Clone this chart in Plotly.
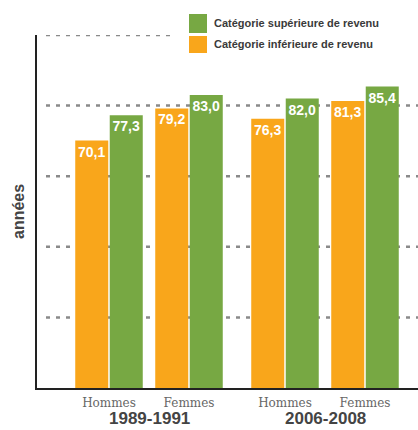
import plotly.graph_objects as go

# ---- data ----
periods = ["1989-1991", "2006-2008"]
sexes = ["Hommes", "Femmes"]
low_income = [70.1, 79.2, 76.3, 81.3]    # Catégorie inférieure de revenu
high_income = [77.3, 83.0, 82.0, 85.4]   # Catégorie supérieure de revenu
grid_values = [20, 40, 60, 80, 100]
name_low = "Catégorie inférieure de revenu"
name_high = "Catégorie supérieure de revenu"
y_title = "années"

ORANGE = "#F9A61B"
GREEN = "#77A843"

W, H = 418, 430
ml, mr, mt, mb = 37, 0, 35, 42
pw, ph = W - ml - mr, H - mt - mb

# category positions: pairs one unit apart, periods separated by a wider gap
group_step = 2.2
pos = []
labels = []
for gi, p in enumerate(periods):
    for si, s in enumerate(sexes):
        pos.append(gi * group_step + si)
        labels.append(s)

fig = go.Figure()
for name, vals, col in [(name_low, low_income, ORANGE), (name_high, high_income, GREEN)]:
    fig.add_trace(go.Bar(
        x=pos, y=vals, name=name, marker=dict(color=col, line=dict(width=0)),
        texttemplate="%{y:.1f}", textposition="inside", insidetextanchor="end",
        textangle=0, constraintext="none",
        textfont=dict(family="Liberation Sans", size=14, color="white", weight="bold"),
        showlegend=False,
    ))

def px_to_paper_x(px):
    return (px - ml) / pw

def px_to_paper_y(py):
    return (H - mb - py) / ph

shapes = []
for v in grid_values:
    shapes.append(dict(type="line", xref="paper", yref="y", x0=px_to_paper_x(46), x1=1,
                       y0=v, y1=v, layer="below",
                       line=dict(color="#8a8a8a", width=2.5, dash="4px,6px")))
# legend background
shapes.append(dict(type="rect", xref="paper", yref="paper",
                   x0=px_to_paper_x(176), x1=1, y0=px_to_paper_y(60), y1=px_to_paper_y(6),
                   fillcolor="white", line=dict(width=0), layer="below"))
# legend squares
for (top, bot), col in [((14, 33), GREEN), ((36, 53), ORANGE)]:
    shapes.append(dict(type="rect", xref="paper", yref="paper",
                       x0=px_to_paper_x(189), x1=px_to_paper_x(207),
                       y0=px_to_paper_y(bot), y1=px_to_paper_y(top),
                       fillcolor=col, line=dict(width=0), layer="above"))

annotations = []
for (top, bot), txt in [((14, 33), name_high), ((36, 53), name_low)]:
    annotations.append(dict(xref="paper", yref="paper", x=px_to_paper_x(212),
                            y=px_to_paper_y((top + bot) / 2), text=txt, showarrow=False,
                            xanchor="left", yanchor="middle",
                            font=dict(family="Liberation Sans", size=11, color="#3a3a3a", weight="bold")))
for gi, p in enumerate(periods):
    cx = (pos[2 * gi] + pos[2 * gi + 1]) / 2
    annotations.append(dict(xref="x", yref="paper", x=cx, y=px_to_paper_y(430), text=p,
                            showarrow=False, xanchor="center", yanchor="bottom",
                            font=dict(family="Liberation Sans", size=17, color="#444", weight="bold")))
annotations.append(dict(xref="paper", yref="paper", x=px_to_paper_x(18), y=px_to_paper_y(212),
                        text=y_title, textangle=-90, showarrow=False,
                        xanchor="center", yanchor="middle",
                        font=dict(family="Liberation Sans", size=16, color="#444", weight="bold")))

fig.update_layout(
    width=W, height=H, margin=dict(l=ml, r=mr, t=mt, b=mb),
    paper_bgcolor="white", plot_bgcolor="white",
    barmode="group", bargap=0.1375, bargroupgap=0.043,
    separators=", ",
    shapes=shapes, annotations=annotations,
    xaxis=dict(range=[(37 - 109) / 80, (418 - 109) / 80], tickvals=pos, ticktext=labels,
               showgrid=False, zeroline=False, showline=True, linecolor="#222", linewidth=2,
               ticks="", ticklabelstandoff=3,
               tickfont=dict(family="DejaVu Serif", size=12, color="#666")),
    yaxis=dict(range=[0, 100], showgrid=False, zeroline=False, showticklabels=False,
               showline=True, linecolor="#222", linewidth=2, ticks=""),
)

fig.write_html("out.html")
